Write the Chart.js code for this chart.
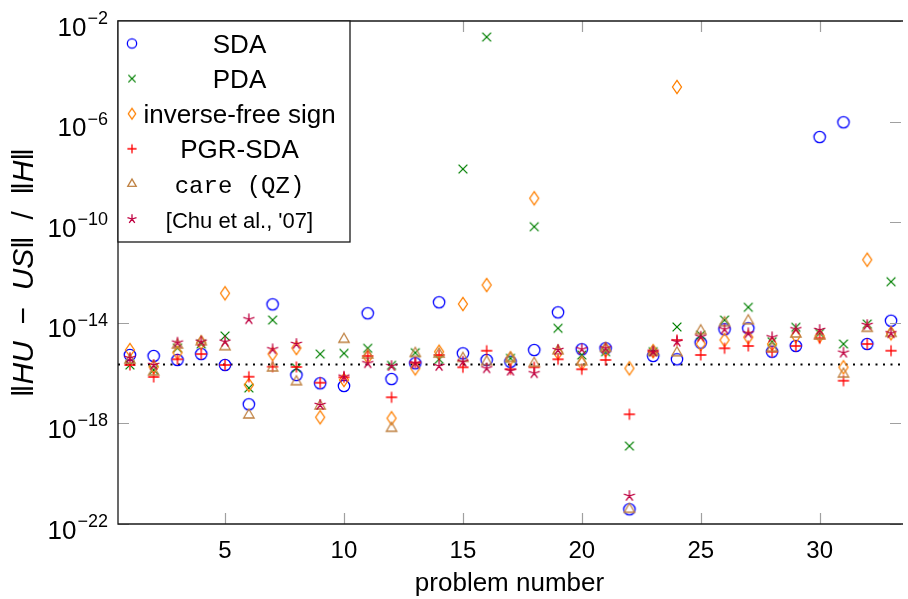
<!DOCTYPE html>
<html><head><meta charset="utf-8">
<script src="https://cdn.jsdelivr.net/npm/chart.js@4.4.1/dist/chart.umd.min.js"></script>
<style>html,body{margin:0;padding:0;background:#fff}#wrap{width:908px;height:599px;position:relative}</style>
</head><body><div id="wrap"><canvas id="c"></canvas></div>
<script>
const problems = [1,2,3,4,5,6,7,8,9,10,11,12,13,14,15,16,17,18,19,20,21,22,23,24,25,26,27,28,29,30,31,32,33];
const sda = [5.25e-16,4.79e-16,3.32e-16,5.74e-16,2.10e-16,5.75e-18,5.43e-14,8.4e-17,3.93e-17,3.07e-17,2.39e-14,5.82e-17,2.45e-16,6.53e-14,6.12e-16,3.32e-16,2.84e-16,8.28e-16,2.61e-14,8.83e-16,9.68e-16,3.84e-22,4.79e-16,3.54e-16,1.62e-15,5.52e-15,6.04e-15,7.10e-16,1.20e-15,2.44e-7,9.38e-7,1.44e-15,1.21e-14];
const pda = [2.10e-16,1.33e-16,9.95e-16,1.44e-15,2.99e-15,2.56e-17,1.29e-14,1.60e-16,5.74e-16,6.12e-16,9.68e-16,2.04e-16,6.47e-16,3.54e-16,1.30e-8,2.31e-3,3.87e-16,6.62e-11,6.04e-15,5.25e-16,7.10e-16,1.26e-19,7.10e-16,6.81e-15,3.27e-15,1.29e-14,4.13e-14,1.77e-15,6.62e-15,3.83e-15,1.44e-15,8.95e-15,4.31e-13];
const invFree = [8.28e-16,1.75e-16,6.47e-16,1.62e-15,1.49e-13,3.37e-17,5.74e-16,9.95e-16,1.75e-18,5.32e-17,4.37e-16,1.60e-18,1.55e-16,7.10e-16,5.58e-14,3.18e-13,3.87e-16,8.91e-10,6.47e-16,2.45e-16,8.28e-16,1.55e-16,7.4e-16,2.38e-5,1.44e-15,2.07e-15,2.65e-15,1.44e-15,2.99e-15,2.99e-15,1.70e-16,3.23e-12,3.83e-15];
const pgrSda = [2.10e-16,7.00e-17,3.54e-16,5.74e-16,2.10e-16,7.19e-17,1.79e-16,1.75e-16,4.15e-17,6.81e-17,4.79e-16,1.09e-17,2.59e-16,5.25e-16,1.70e-16,7.78e-16,1.42e-16,1.70e-16,3.54e-16,1.42e-16,3.32e-16,2.30e-18,7.10e-16,2.07e-15,5.25e-16,9.68e-16,1.20e-15,7.10e-16,1.20e-15,2.42e-15,4.99e-17,1.44e-15,7.78e-16];
const careQZ = [3.32e-16,1.11e-16,1.31e-15,1.77e-15,1.12e-15,2.16e-18,1.60e-16,4.55e-17,4.92e-18,2.21e-15,5.25e-16,6.38e-19,6.12e-16,5.74e-16,3.87e-16,2.84e-16,3.87e-16,2.45e-16,7.78e-16,2.84e-16,9.68e-16,3.84e-22,7.10e-16,6.47e-16,4.85e-15,1.01e-14,1.21e-14,9.68e-16,3.59e-15,2.99e-15,9.20e-17,6.04e-15,3.83e-15];
const chu07 = [3.98e-16,2.10e-16,1.62e-15,1.77e-15,1.77e-15,1.38e-14,8.83e-16,1.44e-15,5.40e-18,7.19e-17,2.45e-16,1.91e-16,2.45e-16,1.91e-16,2.84e-16,1.55e-16,1.24e-16,9.82e-17,8.28e-16,8.83e-16,9.68e-16,1.30e-21,7.10e-16,1.77e-15,2.80e-15,5.52e-15,3.83e-15,2.65e-15,5.52e-15,5.18e-15,6.47e-16,8.17e-15,3.83e-15];
const seriesNames = ['SDA','PDA','inverse-free sign','PGR-SDA','care (QZ)',"[Chu et al., '07]"];
const xTickValues = [5,10,15,20,25,30];
const yTickValues = [1e-22,1e-18,1e-14,1e-10,1e-6,1e-2];
const yTickExponents = ['\u221222','\u221218','\u221214','\u221210','\u22126','\u22122'];
const machineEps = 2.22e-16;
const xMin = 0.5, xMax = 33.42;

function marker(type, color, s){
  const size = 22;
  const c = document.createElement('canvas'); c.width = size; c.height = size;
  const g = c.getContext('2d');
  g.strokeStyle = color; g.lineWidth = 1.3; g.translate(size/2, size/2);
  g.beginPath();
  if (type==='circle'){ g.arc(0,0,5.7*s,0,Math.PI*2); }
  else if (type==='x'){ const a=4.4*s; g.moveTo(-a,-a); g.lineTo(a,a); g.moveTo(-a,a); g.lineTo(a,-a); }
  else if (type==='diamond'){ g.moveTo(0,-6.6*s); g.lineTo(4.5*s,0); g.lineTo(0,6.6*s); g.lineTo(-4.5*s,0); g.closePath(); }
  else if (type==='plus'){ const p=5.6*s; g.moveTo(-p,0); g.lineTo(p,0); g.moveTo(0,-p); g.lineTo(0,p); }
  else if (type==='triangle'){ const t=6*s; g.moveTo(0,-t); g.lineTo(t*0.866,t*0.5); g.lineTo(-t*0.866,t*0.5); g.closePath(); }
  else if (type==='star'){ const r=5.8*s; for(let i=0;i<5;i++){ const a=-Math.PI/2+i*2*Math.PI/5; g.moveTo(0,0); g.lineTo(r*Math.cos(a), r*Math.sin(a)); } }
  g.stroke();
  return c;
}
const styles = [
  ['circle','#0000ff'],['x','#008000'],['diamond','#ff8000'],['plus','#ff0000'],['triangle','#bf8040'],['star','#bf0040']
];
const seriesValues = [sda,pda,invFree,pgrSda,careQZ,chu07];
const datasets = seriesValues.map((vals,i)=>({
  label: seriesNames[i],
  data: problems.map((p,j)=>({x:p,y:vals[j]})),
  pointStyle: marker(styles[i][0], styles[i][1], 1),
  pointRadius: 6,
  showLine: false,
  order: 10-i
}));
datasets.push({
  label:'eps', type:'line',
  data:[{x:xMin,y:machineEps},{x:xMax,y:machineEps}],
  borderColor:'#000', borderWidth:2, borderDash:[2,5.5], pointRadius:0, order:20
});
const legendMarkers = styles.map(s=>marker(s[0], s[1], 0.82));

const FONT = "'Liberation Sans', Arial, sans-serif";
const decor = {
  id:'decor',
  afterDraw(chart){
    const ctx = chart.ctx, a = chart.chartArea;
    const xs = chart.scales.x, ys = chart.scales.y;
    ctx.save();
    // inward ticks
    ctx.strokeStyle = '#a0a0a0'; ctx.lineWidth = 1.2;
    ctx.beginPath();
    xTickValues.forEach(v=>{
      const px = Math.round(xs.getPixelForValue(v))+0.5;
      ctx.moveTo(px,a.bottom); ctx.lineTo(px,a.bottom-11);
      ctx.moveTo(px,a.top); ctx.lineTo(px,a.top+11);
    });
    yTickValues.forEach(v=>{
      const py = Math.round(ys.getPixelForValue(v))+0.5;
      ctx.moveTo(a.left,py); ctx.lineTo(a.left+11,py);
      ctx.moveTo(a.right,py); ctx.lineTo(a.right-11,py);
    });
    ctx.stroke();
    // frame
    ctx.strokeStyle = '#1a1a1a'; ctx.lineWidth = 1.3;
    ctx.beginPath();
    ctx.moveTo(a.right+2, a.top); ctx.lineTo(a.left, a.top); ctx.lineTo(a.left, a.bottom); ctx.lineTo(a.right+2, a.bottom);
    ctx.stroke();
    // y tick labels
    ctx.fillStyle = '#000';
    ctx.textBaseline = 'alphabetic';
    yTickValues.forEach((v,i)=>{
      const py = ys.getPixelForValue(v);
      ctx.font = '18px ' + FONT; ctx.textAlign='right';
      const ex = yTickExponents[i];
      const ew = ctx.measureText(ex).width;
      ctx.fillText(ex, 108, py+3);
      ctx.font = '26px ' + FONT;
      ctx.fillText('10', 108-ew-1, py+14.5);
    });
    // y title
    const segs = [['\u2016',''],['HU','italic '],['  \u2212  ',''],['US','italic '],['\u2016  /  \u2016',''],['H','italic '],['\u2016','']];
    let total = 0;
    segs.forEach(s=>{ ctx.font = s[1]+'30px '+FONT; s.push(ctx.measureText(s[0]).width); total += s[2]; });
    ctx.translate(33, (a.top+a.bottom)/2);
    ctx.rotate(-Math.PI/2);
    ctx.textAlign='left';
    let x0 = -total/2;
    segs.forEach(s=>{ ctx.font = s[1]+'30px '+FONT; ctx.fillText(s[0], x0, 0); x0 += s[2]; });
    ctx.setTransform(1,0,0,1,0,0);
    // legend
    const L = a.left, T = a.top, W = 232, H = 221;
    ctx.fillStyle = '#fff'; ctx.fillRect(L, T, W, H);
    ctx.strokeStyle = '#1a1a1a'; ctx.lineWidth = 1.3; ctx.strokeRect(L, T, W, H);
    const fonts = ['26px '+FONT,'26px '+FONT,'26px '+FONT,'26px '+FONT,"24px 'Liberation Mono', monospace",'22px '+FONT];
    ctx.fillStyle = '#000'; ctx.textAlign = 'center'; ctx.textBaseline='alphabetic';
    seriesNames.forEach((n,i)=>{
      const base = 52.5 + 35.1*i;
      const m = legendMarkers[i];
      ctx.drawImage(m, 132 - m.width/2, base - 9 - m.height/2);
      ctx.font = fonts[i];
      ctx.fillText(n, 239.5, base);
    });
    ctx.restore();
  }
};

Chart.defaults.font.family = FONT;
new Chart(document.getElementById('c'), {
  type:'scatter',
  data:{datasets},
  options:{
    responsive:true, maintainAspectRatio:false, animation:false,
    layout:{padding:{left:0,right:0,top:21,bottom:0}},
    plugins:{legend:{display:false}, tooltip:{enabled:false}},
    scales:{
      x:{type:'linear', min:xMin, max:xMax,
        afterBuildTicks:s=>{ s.ticks = xTickValues.map(v=>({value:v})); },
        grid:{display:false, drawTicks:false}, border:{display:false},
        ticks:{color:'#000', font:{size:24}, padding:13, maxRotation:0, autoSkip:false, callback:v=>String(v)},
        title:{display:true, text:'problem number', color:'#000', font:{size:26}, padding:{top:0,bottom:0}},
        afterFit:s=>{ s.height = 75; }
      },
      y:{type:'logarithmic', min:1e-22, max:1e-2,
        afterBuildTicks:s=>{ s.ticks = yTickValues.map(v=>({value:v})); },
        grid:{display:false, drawTicks:false}, border:{display:false},
        ticks:{display:false},
        afterFit:s=>{ s.width = 118; }
      }
    }
  },
  plugins:[decor]
});
</script></body></html>
